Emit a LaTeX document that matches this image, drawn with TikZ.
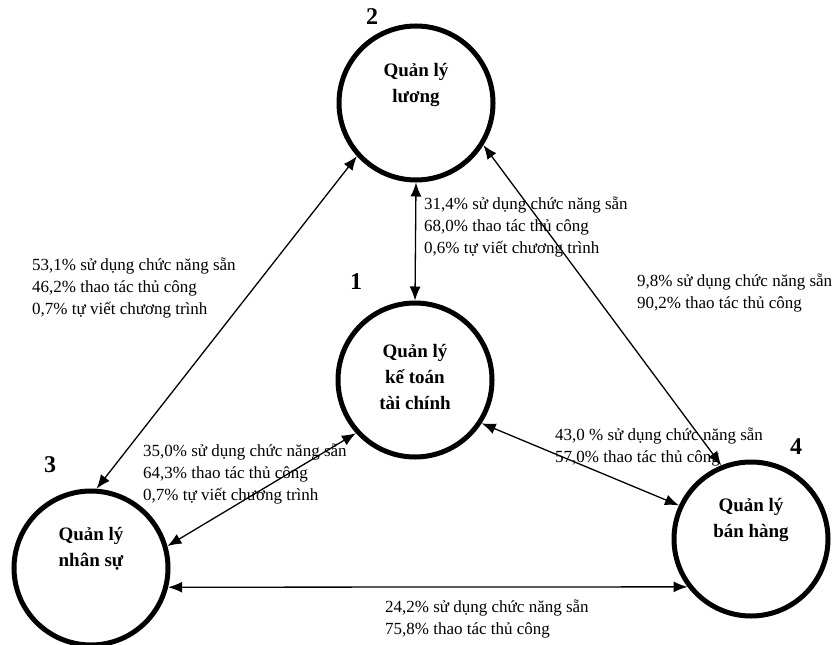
\documentclass[tikz,border=0pt]{standalone}
\usepackage{fontspec}
\setmainfont{Liberation Serif}
\usetikzlibrary{arrows.meta}
\tikzset{dept/.style={circle,draw,line width=5pt,minimum size=154pt,inner sep=0pt},
link/.style={{Latex[length=14pt,width=11pt]}-{Latex[length=14pt,width=11pt]},line width=1.3pt},
lab/.style={font=\fontsize{17}{22}\selectfont,align=left,anchor=west,inner sep=0pt},
depttitle/.style={font=\fontsize{19}{26}\selectfont\bfseries,align=center},
num/.style={font=\fontsize{24}{26}\selectfont\bfseries,inner sep=0pt}}

\begin{document}
\begin{tikzpicture}[x=1pt,y=-1pt]
\useasboundingbox (0,0) rectangle (838,645);
\node[dept,label={[depttitle,yshift=18pt]center:{Quản lý\\lương}}] (luong) at (416,103) {};
\node[dept,label={[depttitle,yshift=3pt]center:{Quản lý\\kế toán\\tài chính}}] (ketoan) at (415,380) {};
\node[dept,label={[depttitle,yshift=19pt]center:{Quản lý\\nhân sự}}] (nhansu) at (91,568) {};
\node[dept,label={[depttitle,yshift=19pt]center:{Quản lý\\bán hàng}}] (banhang) at (751,539) {};
\node[num] (n2) at (372,17) {2};
\node[num] (n1) at (356,282) {1};
\node[num] (n3) at (50,465) {3};
\node[num] (n4) at (796,447) {4};
\draw[link] (luong.south) -- (ketoan.north);
\draw[link] (luong.222) -- (nhansu.86);
\draw[link] (luong.328) -- (banhang.112);
\draw[link] (ketoan.222) -- (nhansu.16);
\draw[link] (ketoan.327) -- (banhang.155);
\draw[link] (nhansu.346) -- (banhang.217);
\node[lab] (t21) at (424,227) {31,4\% sử dụng chức năng sẵn\\68,0\% thao tác thủ công\\0,6\% tự viết chương trình};
\node[lab] (t23) at (32,288) {53,1\% sử dụng chức năng sẵn\\46,2\% thao tác thủ công\\0,7\% tự viết chương trình};
\node[lab] (t24) at (637,293) {9,8\% sử dụng chức năng sẵn\\90,2\% thao tác thủ công};
\node[lab] (t13) at (143,474) {35,0\% sử dụng chức năng sẵn\\64,3\% thao tác thủ công\\0,7\% tự viết chương trình};
\node[lab] (t14) at (555,447) {43,0 \% sử dụng chức năng sẵn\\57,0\% thao tác thủ công};
\node[lab] (t34) at (385,619) {24,2\% sử dụng chức năng sẵn\\75,8\% thao tác thủ công};
\end{tikzpicture}
\end{document}
